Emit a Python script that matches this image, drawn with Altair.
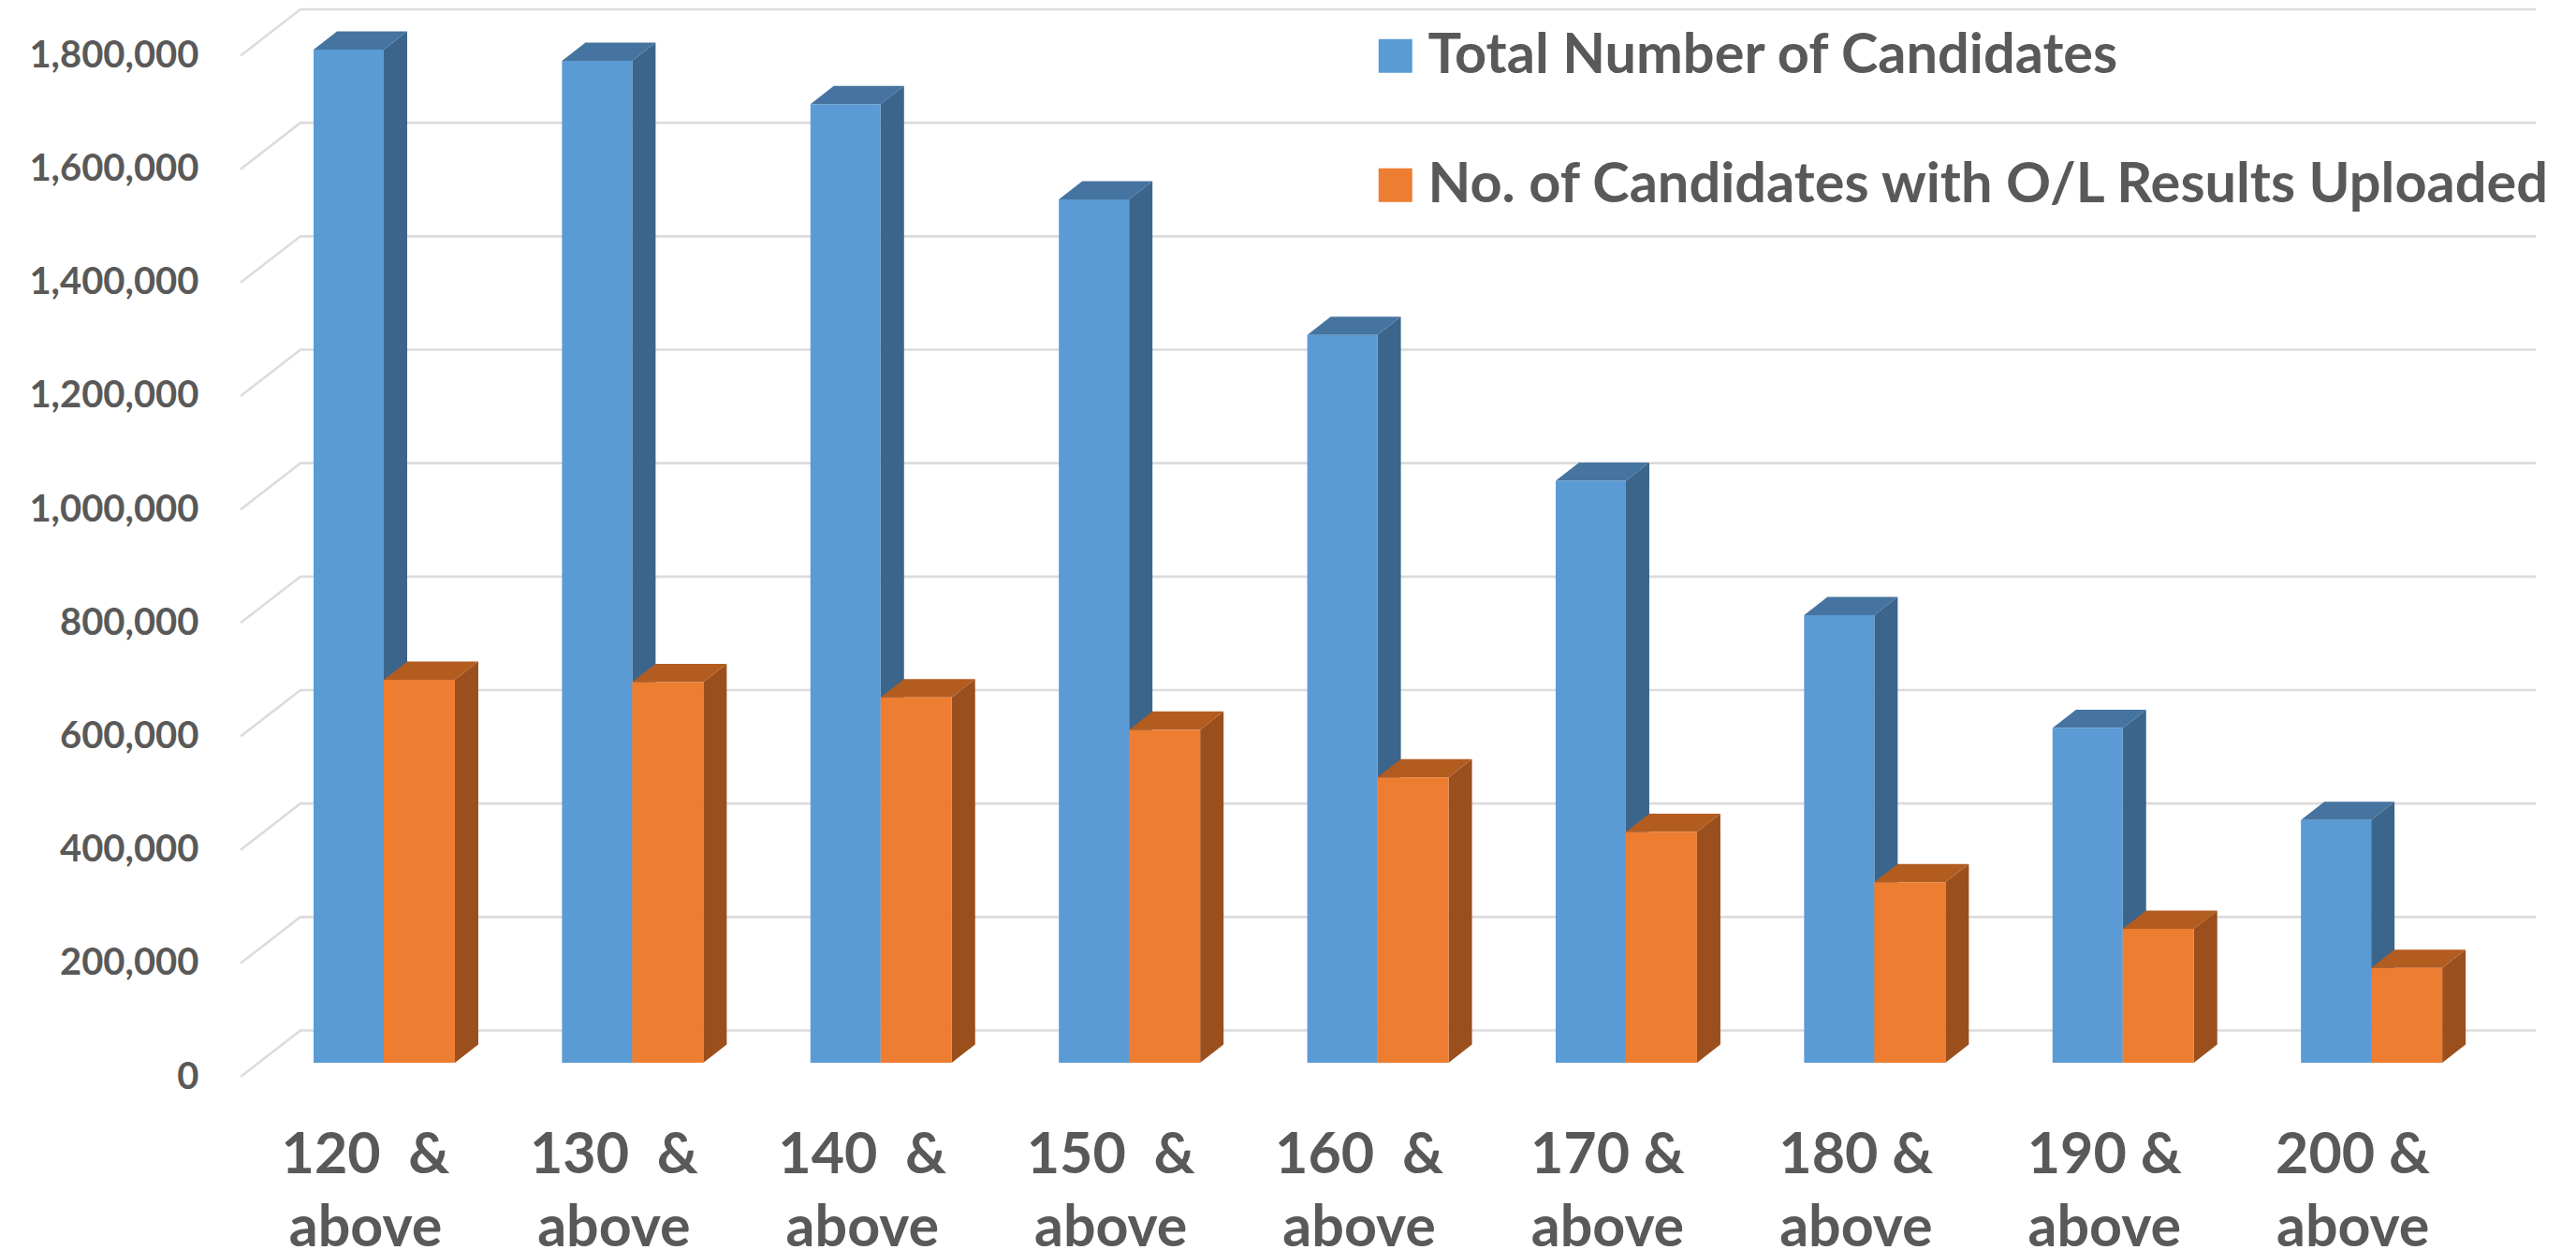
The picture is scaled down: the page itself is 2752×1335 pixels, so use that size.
import json
import altair as alt
import pandas as pd

NB = "\u00a0"
categories = [f"120 {NB}&|above", f"130 {NB}&|above", f"140 {NB}&|above", f"150 {NB}&|above", f"160 {NB}&|above",
              "170 &|above", "180 &|above", "190 &|above", "200 &|above"]
total = [1786000, 1766000, 1690000, 1522000, 1283000, 1026000, 789000, 590000, 428000]
uploaded = [675000, 671000, 644000, 587000, 503000, 407000, 318000, 236000, 167000]
series_names = ["Total Number of Candidates", "No. of Candidates with O/L Results Uploaded"]
ticks = [0, 200000, 400000, 600000, 800000, 1000000, 1200000, 1400000, 1600000, 1800000]

FONT = "Lato"
TXT = "#595959"
GRID = "#DCDCDC"
BLUE, BLUE_SIDE, BLUE_TOP = "#5B9BD5", "#3C658B", "#4674A0"
ORANGE, ORANGE_SIDE, ORANGE_TOP = "#ED7D31", "#9A4F1D", "#B35C20"

# projection constants, in data units (category slots and candidates)
WALL_DX, WALL_DY = 0.2411, 81700
BAR_DX, BAR_DY = 0.0942, 32200
BASE = 24750
BAR_L, BAR_M, BAR_R = -0.2072, 0.0754, 0.3617
X_MIN, X_MAX = -0.5011, 8.738
Y_MAX = 1800000 + WALL_DY

x_scale = alt.Scale(domain=[X_MIN, X_MAX], nice=False, zero=False)
y_scale = alt.Scale(domain=[0, Y_MAX], nice=False, zero=False)

# grid: diagonal on the left wall + horizontal on the back wall
grid_rows = []
for t in ticks:
    grid_rows += [
        {"t": t, "x": X_MIN, "y": t},
        {"t": t, "x": X_MIN + WALL_DX, "y": t + WALL_DY},
        {"t": t, "x": X_MAX, "y": t + WALL_DY},
    ]

front_rows, side_rows, top_rows = [], [], []
for i in range(len(categories)):
    for s, (vals, a, b) in enumerate(((total, BAR_L, BAR_M), (uploaded, BAR_M, BAR_R))):
        v = vals[i] + BASE
        x0, x1 = i + a, i + b
        front_rows.append({"series": series_names[s], "x": x0, "x2": x1, "y": BASE, "y2": v})
        side_rows += [
            {"s": s, "c": i, "x": x1, "y": BASE, "y2": v},
            {"s": s, "c": i, "x": x1 + BAR_DX, "y": BASE + BAR_DY, "y2": v + BAR_DY},
        ]
        top_rows += [
            {"s": s, "c": i, "x": x0, "y": v, "y2": v},
            {"s": s, "c": i, "x": x0 + BAR_DX, "y": v, "y2": v + BAR_DY},
            {"s": s, "c": i, "x": x1, "y": v, "y2": v + BAR_DY},
            {"s": s, "c": i, "x": x1 + BAR_DX, "y": v + BAR_DY, "y2": v + BAR_DY},
        ]

grid_df = pd.DataFrame(grid_rows)
front_df = pd.DataFrame(front_rows)
side_df = pd.DataFrame(side_rows)
top_df = pd.DataFrame(top_rows)

x_axis = alt.Axis(
    values=list(range(len(categories))),
    labelExpr="split(" + json.dumps(categories) + "[datum.value], '|')",
    labelFont=FONT, labelFontWeight="bold", labelFontSize=61, labelColor=TXT, labelLimit=400,
    labelLineHeight=78, labelPadding=54, labelOverlap=False, labelFlush=False, labelBound=False,
    domain=False, ticks=False, grid=False, title=None,
)
y_axis = alt.Axis(
    values=ticks, labelExpr="format(datum.value, ',')",
    labelFont=FONT, labelFontWeight="bold", labelFontSize=40, labelColor=TXT, labelLimit=400,
    labelPadding=45, labelOverlap=False, labelFlush=False, labelBound=False,
    domain=False, ticks=False, grid=False, title=None,
)
X = alt.X("x:Q", scale=x_scale, axis=x_axis)
Y = alt.Y("y:Q", scale=y_scale, axis=y_axis)

grid = alt.Chart(grid_df).mark_line(color=GRID, strokeWidth=2.6, clip=False).encode(
    x=X, y=Y, detail="t:N",
)


def area(df, s, color):
    return alt.Chart(df[df.s == s]).mark_area(color=color, opacity=1, clip=False).encode(
        x=X, y=Y, y2="y2:Q", detail="c:N",
    )


front = alt.Chart(front_df).mark_rect(clip=False).encode(
    x=X,
    x2="x2:Q",
    y=Y,
    y2="y2:Q",
    color=alt.Color(
        "series:N",
        scale=alt.Scale(domain=series_names, range=[BLUE, ORANGE]),
        legend=alt.Legend(
            orient="none", legendX=1204, legendY=20, title=None,
            labelFont=FONT, labelFontWeight="bold", labelFontSize=59.5, labelColor=TXT,
            labelLimit=1400, symbolType="square", symbolSize=1296, symbolStrokeWidth=0,
            symbolOpacity=1, labelOffset=5, rowPadding=77,
        ),
    ),
)

chart = alt.layer(
    grid,
    area(side_df, 0, BLUE_SIDE),
    area(top_df, 0, BLUE_TOP),
    area(side_df, 1, ORANGE_SIDE),
    area(top_df, 1, ORANGE_TOP),
    front,
).properties(
    width=2452,
    height=1140,
    padding={"left": 249, "top": 2, "right": 35, "bottom": 185},
    autosize=alt.AutoSizeParams(type="none"),
    background="white",
).configure_view(stroke=None)

chart.save("out.html", embed_options={"renderer": "svg", "actions": False})
